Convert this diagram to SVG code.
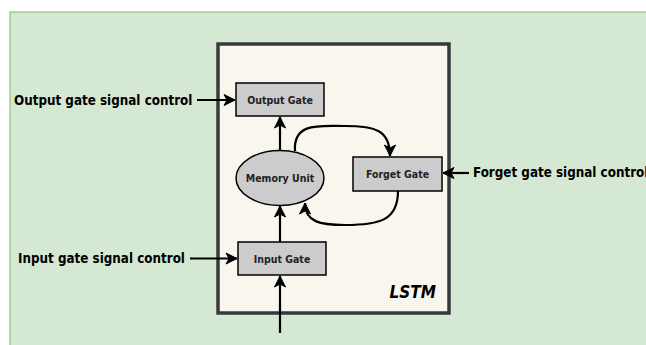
<svg xmlns="http://www.w3.org/2000/svg" width="646" height="345" viewBox="0 0 646 345">
<style>
.lbl{font-family:"DejaVu Sans Condensed","DejaVu Sans",sans-serif;font-stretch:condensed;font-weight:bold;font-size:13.3px;fill:#000}
.nt{font-family:"DejaVu Sans Condensed","DejaVu Sans",sans-serif;font-stretch:condensed;font-weight:bold;font-size:10.5px;fill:#222;text-anchor:middle}
.node{fill:#cccccc;stroke:#000;stroke-width:1.5}
.con{fill:none;stroke:#000;stroke-width:2.2}
</style>
<defs>
<marker id="ah" markerUnits="userSpaceOnUse" markerWidth="14" markerHeight="14" viewBox="0 0 14 14" refX="12" refY="7" orient="auto">
<path d="M1,1.5 L12,7 L1,12.5 L4,7 Z" fill="#000" stroke="#000" stroke-width="1"/>
</marker>
</defs>
<rect x="10" y="12" width="650" height="345" fill="#d5e8d4" stroke="#82b366" stroke-width="1"/>
<g id="lstm">
<rect x="218" y="44" width="231" height="269" fill="#f9f7ed" stroke="#36393d" stroke-width="3.5"/>
<text x="436" y="298" font-family="'DejaVu Sans Condensed','DejaVu Sans',sans-serif" font-stretch="condensed" font-weight="bold" font-style="italic" font-size="17" text-anchor="end">LSTM</text>
</g>
<g id="output-gate">
<rect class="node" x="236" y="83" width="88" height="33"/>
<text class="nt" x="280" y="103.5">Output Gate</text>
</g>
<g id="memory-unit">
<ellipse class="node" cx="280" cy="178" rx="44" ry="27.5"/>
<text class="nt" x="280" y="182">Memory Unit</text>
</g>
<g id="forget-gate">
<rect class="node" x="353" y="157" width="89" height="34"/>
<text class="nt" x="397.5" y="178">Forget Gate</text>
</g>
<g id="input-gate">
<rect class="node" x="238" y="242" width="88" height="33"/>
<text class="nt" x="282" y="262.5">Input Gate</text>
</g>
<g id="output-control"><text class="lbl" x="14" y="105">Output gate signal control</text></g>
<g id="input-control"><text class="lbl" x="18" y="263">Input gate signal control</text></g>
<g id="forget-control"><text class="lbl" x="473" y="177">Forget gate signal control</text></g>
<g id="connectors">
<path class="con" d="M197,100 L235,100" marker-end="url(#ah)"/>
<path class="con" d="M190,258.5 L237,258.5" marker-end="url(#ah)"/>
<path class="con" d="M469,173 L443,173" marker-end="url(#ah)"/>
<path class="con" d="M280,151 L280,117" marker-end="url(#ah)"/>
<path class="con" d="M280,242 L280,206" marker-end="url(#ah)"/>
<path class="con" d="M280,333 L280,276" marker-end="url(#ah)"/>
<path class="con" d="M295,151 C293,122 320,126 345,126 C375,126 390,130 390,156" marker-end="url(#ah)"/>
<path class="con" d="M398,191 C398,220 380,225 345,225 C320,225 305,222 305,203" marker-end="url(#ah)"/>
</g>
</svg>
